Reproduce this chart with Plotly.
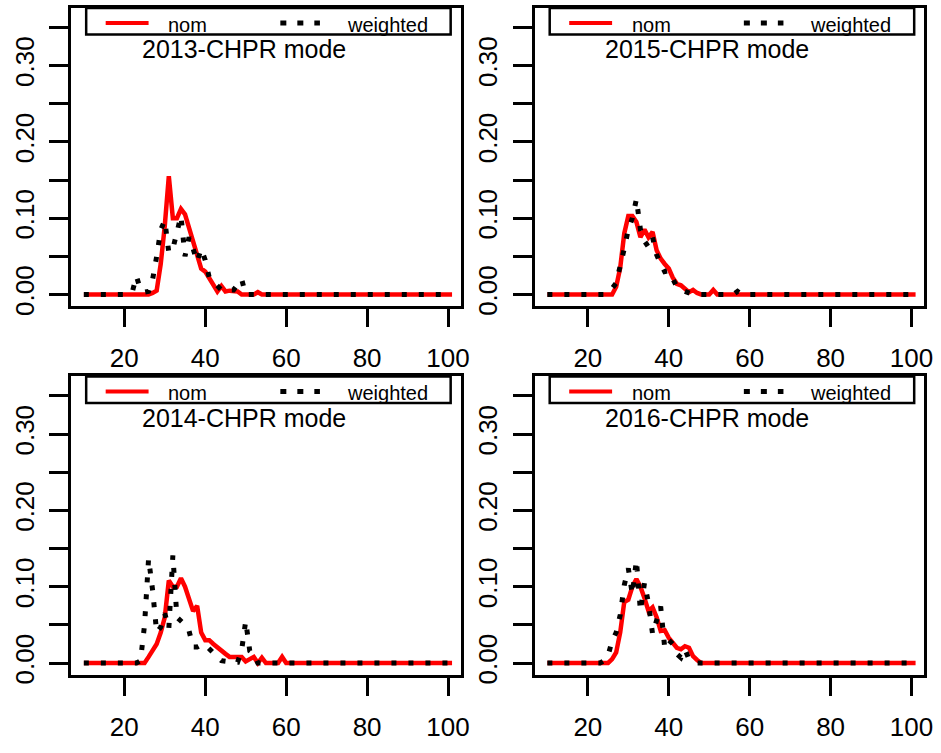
import plotly.graph_objects as go

# ---------------- data ----------------
x_start, x_end = 10, 101          # full x grid of the curves
peak_lo, peak_hi = 20, 60         # part of the grid with non-zero values

nom_2013 = [0, 0, 0, 0, 0, 0, 0, 0.002, 0.005, 0.04, 0.09, 0.155, 0.1, 0.1, 0.112, 0.105,
            0.088, 0.07, 0.055, 0.034, 0.03, 0.022, 0.012, 0.004, 0.011, 0.004, 0.005, 0.004,
            0.004, 0, 0, 0, 0, 0.003, 0, 0, 0, 0, 0, 0, 0]
wt_2013 = [0, 0, 0.004, 0.024, 0.006, 0.003, 0.004, 0.02, 0.05, 0.085, 0.097, 0.055, 0.06,
           0.085, 0.103, 0.05, 0.075, 0.06, 0.043, 0.06, 0.045, 0.022, 0.017, 0.01, 0.006,
           0.004, 0.006, 0.006, 0.012, 0.02, 0, 0, 0, 0, 0, 0, 0, 0, 0, 0, 0]
nom_2015 = [0, 0, 0, 0, 0, 0, 0, 0.01, 0.035, 0.08, 0.103, 0.103, 0.095, 0.075, 0.085, 0.075,
            0.082, 0.058, 0.047, 0.04, 0.034, 0.022, 0.014, 0.012, 0.007, 0.003, 0.006, 0.002,
            0, 0, 0, 0.006, 0, 0, 0, 0, 0, 0, 0, 0, 0]
wt_2015 = [0, 0, 0, 0, 0, 0.005, 0.008, 0.015, 0.035, 0.06, 0.085, 0.1, 0.125, 0.085, 0.07,
           0.062, 0.075, 0.052, 0.04, 0.03, 0.031, 0.02, 0.01, 0.006, 0.004, 0.003, 0, 0, 0,
           0, 0, 0, 0, 0, 0, 0, 0, 0.004, 0, 0, 0]
nom_2014 = [0, 0, 0, 0, 0, 0, 0.008, 0.018, 0.025, 0.04, 0.06, 0.108, 0.1, 0.1, 0.111, 0.1,
            0.085, 0.068, 0.075, 0.04, 0.03, 0.03, 0.025, 0.02, 0.015, 0.012, 0.008, 0.008,
            0.008, 0.008, 0.002, 0.005, 0.008, 0, 0.007, 0, 0, 0, 0, 0.008, 0]
wt_2014 = [0, 0, 0, 0, 0.003, 0.05, 0.137, 0.095, 0.04, 0.047, 0.065, 0.045, 0.141, 0.06,
           0.055, 0.05, 0.042, 0.021, 0.021, 0.024, 0.024, 0.018, 0.013, 0.008, 0.003, 0.002,
           0.001, 0.001, 0.001, 0.017, 0.055, 0.016, 0.012, 0, 0, 0, 0, 0, 0, 0, 0]
nom_2016 = [0, 0, 0, 0, 0, 0, 0.005, 0.014, 0.04, 0.08, 0.083, 0.1, 0.11, 0.1, 0.085, 0.068,
            0.073, 0.06, 0.042, 0.043, 0.033, 0.027, 0.02, 0.018, 0.022, 0.02, 0.009, 0.004,
            0, 0, 0, 0, 0, 0, 0, 0, 0, 0, 0, 0, 0]
wt_2016 = [0, 0, 0, 0, 0.003, 0.01, 0.029, 0.04, 0.063, 0.102, 0.124, 0.09, 0.135, 0.068,
           0.105, 0.078, 0.038, 0.055, 0.074, 0.02, 0.03, 0.025, 0.012, 0.007, 0.018, 0.005,
           0.003, 0, 0, 0, 0, 0, 0, 0, 0, 0, 0, 0, 0, 0, 0]

titles = ["2013-CHPR mode", "2015-CHPR mode", "2014-CHPR mode", "2016-CHPR mode"]
x_ticks = [20, 40, 60, 80, 100]
y_ticks = [0, 0.05, 0.10, 0.15, 0.20, 0.25, 0.30, 0.35]
y_tick_text = ["0.00", "", "0.10", "", "0.20", "", "0.30", ""]
legend_labels = ["nom", "weighted"]

# ---------------- build ----------------
x_grid = list(range(x_start, x_end + 1))


def full(vals):
    return [0] * (peak_lo - x_start) + vals + [0] * (x_end - peak_hi)


panels = [
    (titles[0], nom_2013, wt_2013, "x", "y"),
    (titles[1], nom_2015, wt_2015, "x2", "y2"),
    (titles[2], nom_2014, wt_2014, "x3", "y3"),
    (titles[3], nom_2016, wt_2016, "x4", "y4"),
]

W, H = 941, 753
col_px = [(72, 465), (540, 933)]
row_px = [(8, 310), (381, 683)]

FONT = "Liberation Sans, Arial, sans-serif"
DOT = "5px,12px"

fig = go.Figure()
shapes = []
annotations = []
layout_axes = {}

for i, (title, nom, wt, xa, ya) in enumerate(panels):
    r, c = divmod(i, 2)
    fig.add_trace(go.Scatter(x=x_grid, y=full(nom), xaxis=xa, yaxis=ya, mode="lines",
                             line=dict(color="#ff0000", width=4.5), showlegend=False,
                             name=legend_labels[0]))
    fig.add_trace(go.Scatter(x=x_grid, y=full(wt), xaxis=xa, yaxis=ya, mode="lines",
                             line=dict(color="black", width=5, dash=DOT), showlegend=False,
                             name=legend_labels[1]))
    x0p, x1p = col_px[c]
    y0p, y1p = row_px[r]
    xkey = "xaxis" + ("" if xa == "x" else xa[1:])
    ykey = "yaxis" + ("" if ya == "y" else ya[1:])
    layout_axes[xkey] = dict(
        domain=[x0p / W, x1p / W], anchor=ya, range=[6.9, 103.1],
        tickvals=x_ticks, ticks="outside", ticklen=18, tickwidth=3, tickcolor="black",
        showline=True, mirror=True, linewidth=3, linecolor="black",
        showgrid=False, zeroline=False, ticklabelstandoff=9,
        tickfont=dict(family=FONT, size=26, color="black"))
    layout_axes[ykey] = dict(
        domain=[1 - y1p / H, 1 - y0p / H], anchor=xa, range=[-0.0155, 0.3756],
        tickvals=y_ticks, ticktext=y_tick_text, tickangle=-90,
        ticks="outside", ticklen=19, tickwidth=3, tickcolor="black",
        showline=True, mirror=True, linewidth=3, linecolor="black",
        showgrid=False, zeroline=False, ticklabelstandoff=5,
        tickfont=dict(family=FONT, size=26, color="black"))

    xr, yr = xa + " domain", ya + " domain"
    # legend box
    shapes.append(dict(type="rect", xref=xr, yref=yr, x0=0.0382, x1=0.9746, y0=0.9106, y1=1.0,
                       line=dict(color="black", width=2.5), fillcolor="white", layer="above"))
    shapes.append(dict(type="line", xref=xr, yref=yr, x0=0.0883, x1=0.1985, y0=0.9493, y1=0.9493,
                       line=dict(color="#ff0000", width=4)))
    shapes.append(dict(type="line", xref=xr, yref=yr, x0=0.537, x1=0.6387, y0=0.9493, y1=0.9493,
                       line=dict(color="black", width=5, dash="6px,11px")))
    annotations.append(dict(xref=xr, yref=yr, x=0.2443, y=0.9440, text=legend_labels[0],
                            showarrow=False, xanchor="left", yanchor="middle",
                            font=dict(family=FONT, size=20, color="black")))
    annotations.append(dict(xref=xr, yref=yr, x=0.7023, y=0.9440, text=legend_labels[1],
                            showarrow=False, xanchor="left", yanchor="middle",
                            font=dict(family=FONT, size=20, color="black")))
    annotations.append(dict(xref=xr, yref=yr, x=0.4427, y=0.8620, text=title,
                            showarrow=False, xanchor="center", yanchor="middle",
                            font=dict(family=FONT, size=25, color="black")))

fig.update_layout(
    width=W, height=H, margin=dict(l=0, r=0, t=0, b=0),
    paper_bgcolor="white", plot_bgcolor="white",
    shapes=shapes, annotations=annotations, showlegend=False,
    **layout_axes)

fig.write_html("out.html")
